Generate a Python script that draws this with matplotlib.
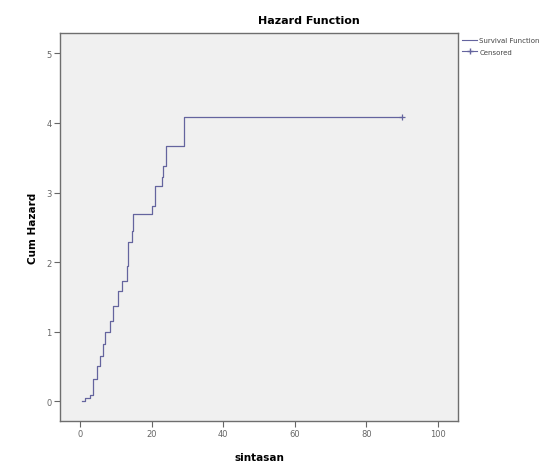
import matplotlib
matplotlib.use("Agg")
import matplotlib.pyplot as plt
from matplotlib.lines import Line2D

# Data
times = [0.5, 1.5, 2.8, 3.7, 4.7, 5.6, 6.3, 7.0, 8.4, 9.3, 10.7, 11.6, 13.0, 13.5,
         14.4, 14.9, 20.0, 21.0, 22.8, 23.3, 24.0, 29.0]
cum_hazard = [0.0, 0.05, 0.10, 0.32, 0.51, 0.66, 0.83, 1.00, 1.16, 1.37, 1.59, 1.73,
              1.95, 2.29, 2.45, 2.69, 2.81, 3.10, 3.22, 3.38, 3.67, 4.08]
censored_time = [90]
last_time = 90

xticks = [0, 20, 40, 60, 80, 100]
yticks = [0, 1, 2, 3, 4, 5]

line_color = "#64649e"

fig = plt.figure(figsize=(5.6, 4.64), dpi=100)
ax = fig.add_axes([60/560, 42/464, 398/560, 388/464])
ax.set_facecolor("#f0f0f0")

xs = times + [last_time]
ys = cum_hazard + [cum_hazard[-1]]
ax.step(xs, ys, where="post", color=line_color, lw=0.9)
ax.plot(censored_time, [cum_hazard[-1]] * len(censored_time), marker="+",
        ls="none", color=line_color, ms=5, mew=0.9)

ax.set_xlim(-5.6, 105.6)
ax.set_ylim(-0.28, 5.29)
ax.set_xticks(xticks)
ax.set_yticks(yticks)
ax.tick_params(axis="both", labelsize=6, colors="#666666", length=4, width=0.8,
               direction="out", pad=2)
for s in ax.spines.values():
    s.set_color("#6e6e6e")
    s.set_linewidth(1.0)

ax.set_xlabel("sintasan", fontsize=7.5, fontweight="bold", labelpad=10)
ax.set_ylabel("Cum Hazard", fontsize=7.5, fontweight="bold", labelpad=6)
fig.text(309/560, 1 - 21/464, "Hazard Function", ha="center", va="center",
         fontsize=8, fontweight="bold")

handles = [
    Line2D([0], [0], color=line_color, lw=0.8, drawstyle="steps-post"),
    Line2D([0], [0], color=line_color, marker="+", ls="-", lw=0.8, ms=4),
]
fig.legend(handles, ["Survival Function", "Censored"], loc="upper left",
           bbox_to_anchor=(462/560, 1 - 38/464), frameon=False, fontsize=5,
           handlelength=2.2, handletextpad=0.3, labelspacing=0.8,
           borderaxespad=0, borderpad=0, labelcolor="#444444")

fig.savefig("out.png", dpi=100, facecolor="white")
